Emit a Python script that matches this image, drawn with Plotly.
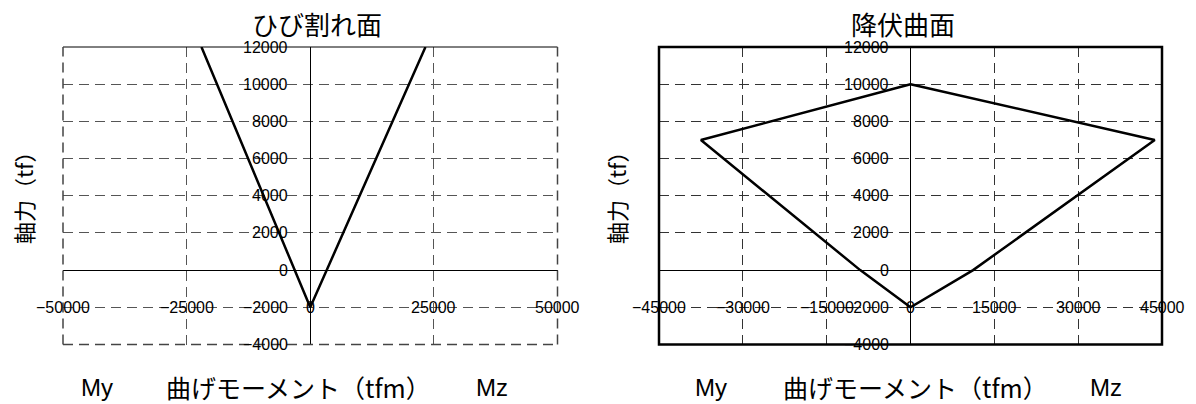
import plotly.graph_objects as go

W, H = 1196, 404

# ---- data ----
crack_x = [-22000, 0, 23300]
crack_y = [12000, -2000, 12000]

yield_x = [0, -37500, -9000, 0, 11200, 43700, 0]
yield_y = [10000, 7000, 0, -2000, 0, 7000, 10000]

left_xticks = [-50000, -25000, 0, 25000, 50000]
right_xticks = [-45000, -30000, -15000, 0, 15000, 30000, 45000]
yticks = [-4000, -2000, 0, 2000, 4000, 6000, 8000, 10000, 12000]

title_left = "ひび割れ面"
title_right = "降伏曲面"
ytitle = "軸力（tf）"
xtitle = "曲げモーメント（tfm）"
label_my = "My"
label_mz = "Mz"

# ---- layout helpers ----
def px(x):
    return x / W

def py(y):
    return 1 - y / H

dom_y = [py(344.5), py(47)]
dom_x1 = [px(63), px(557.5)]
dom_x2 = [px(659), px(1162)]

CJK = "Noto Sans CJK JP"
LAT = "Liberation Sans"
TICKF = dict(family=LAT, size=16, color="black")
DASH = "10px,6px"

fig = go.Figure()
fig.add_trace(go.Scatter(x=crack_x, y=crack_y, mode="lines",
                         line=dict(color="black", width=2.5),
                         xaxis="x", yaxis="y", showlegend=False, hoverinfo="skip"))
fig.add_trace(go.Scatter(x=yield_x, y=yield_y, mode="lines",
                         line=dict(color="black", width=2.5),
                         xaxis="x2", yaxis="y2", showlegend=False, hoverinfo="skip"))

def xax(dom, rng, dtick, anchor, gc):
    return dict(domain=dom, range=rng, dtick=dtick, tick0=0, anchor=anchor,
                showgrid=True, gridcolor=gc, griddash=DASH, gridwidth=1,
                zeroline=True, zerolinecolor="black", zerolinewidth=1,
                showticklabels=False, ticks="", showline=False, fixedrange=True)

def yax(anchor, gc):
    return dict(domain=dom_y, range=[-4000, 12000], dtick=2000, tick0=0, anchor=anchor,
                showgrid=True, gridcolor=gc, griddash=DASH, gridwidth=1,
                zeroline=True, zerolinecolor="black", zerolinewidth=1,
                showticklabels=False, ticks="", showline=False, fixedrange=True)

fig.update_layout(
    width=W, height=H,
    margin=dict(l=0, r=0, t=0, b=0),
    paper_bgcolor="white", plot_bgcolor="white",
    xaxis=xax(dom_x1, [-50000, 50000], 25000, "y", "#555555"),
    yaxis=yax("x", "#555555"),
    xaxis2=xax(dom_x2, [-45000, 45000], 15000, "y2", "#333333"),
    yaxis2=yax("x2", "#333333"),
)

shapes = []
# left chart: thin solid top edge, dashed other edges
shapes.append(dict(type="line", xref="x domain", yref="y domain", x0=0, x1=1, y0=1, y1=1,
                   line=dict(color="black", width=1)))
for (x0, x1, y0, y1) in [(0, 0, 0, 1), (1, 1, 0, 1), (0, 1, 0, 0)]:
    shapes.append(dict(type="line", xref="x domain", yref="y domain", x0=x0, x1=x1, y0=y0, y1=y1,
                       line=dict(color="#444444", width=1.5, dash=DASH)))
# right chart: thick frame
shapes.append(dict(type="rect", xref="x2 domain", yref="y2 domain", x0=0, x1=1, y0=0, y1=1,
                   line=dict(color="black", width=2.5)))
fig.update_layout(shapes=shapes)

def fmt(v):
    s = f"{v:d}"
    return s.replace("-", "\u2212")

ann = []
# tick labels
for v in left_xticks:
    ann.append(dict(x=v, y=-2000, xref="x", yref="y", text=fmt(v), showarrow=False,
                    xanchor="center", yanchor="middle", font=TICKF))
for v in right_xticks:
    ann.append(dict(x=v, y=-2000, xref="x2", yref="y2", text=fmt(v), showarrow=False,
                    xanchor="center", yanchor="middle", font=TICKF))
for v in yticks:
    ann.append(dict(x=0, y=v, xref="x", yref="y", text=fmt(v), showarrow=False,
                    xanchor="right", yanchor="middle", xshift=-20, font=TICKF))
    ann.append(dict(x=0, y=v, xref="x2", yref="y2", text=fmt(v), showarrow=False,
                    xanchor="right", yanchor="middle", xshift=-20, font=TICKF))

def txt(x, y, t, size, angle=0, fam=CJK):
    return dict(x=px(x), y=py(y), xref="paper", yref="paper", text=t, showarrow=False,
                xanchor="center", yanchor="middle", textangle=angle,
                font=dict(family=fam, size=size, color="black"))

ann.append(txt(317, 23, title_left, 26))
ann.append(txt(903, 23, title_right, 26))
ann.append(txt(23, 193, ytitle, 22, angle=-90))
ann.append(txt(616, 193, ytitle, 22, angle=-90))
ann.append(txt(97, 387, label_my, 24, fam=LAT))
ann.append(txt(298, 387, xtitle, 25))
ann.append(txt(492, 387, label_mz, 24, fam=LAT))
ann.append(txt(711, 387, label_my, 24, fam=LAT))
ann.append(txt(915, 387, xtitle, 25))
ann.append(txt(1106, 387, label_mz, 24, fam=LAT))
fig.update_layout(annotations=ann)

fig.write_html("out.html", config={"displayModeBar": False},
               post_script="document.body.style.margin='0';document.body.style.overflow='hidden';")
